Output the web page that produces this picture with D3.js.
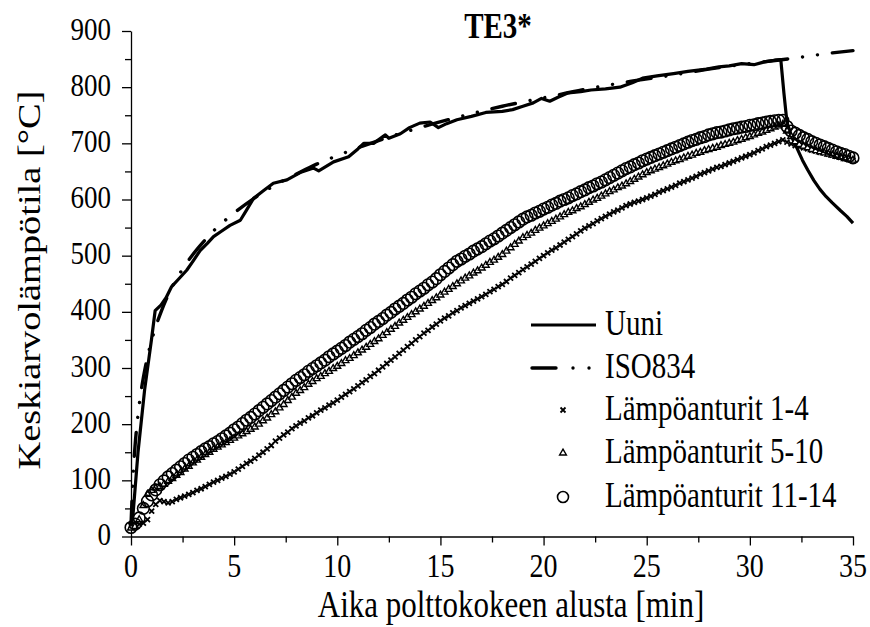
<!DOCTYPE html>
<html>
<head>
<meta charset="utf-8">
<script src="https://cdn.jsdelivr.net/npm/d3@7"></script>
<style>
  body { margin: 0; background: #fff; }
  text { font-family: "Liberation Serif", "Times New Roman", serif; fill: #000; }
</style>
</head>
<body>
<div id="chart"></div>
<script>
// Furnace (Uuni) measured curve
const uuniTime = [0, 0.1, 0.34, 0.66, 0.99, 1.17, 1.45, 1.7, 1.97, 2.3, 2.7, 3.0, 3.35, 3.7, 4.0, 4.4, 4.8, 5.3, 5.6, 5.94,
  6.4, 6.9, 7.56, 8.2, 8.85, 9.1, 9.82, 10.55, 11.0, 11.28, 11.76, 12.33, 12.5, 13.06, 13.5, 14.0, 14.5, 14.9, 15.3, 15.8,
  16.5, 17.2, 18.0, 18.5, 19.0, 19.5, 19.9, 20.3, 20.7, 21.2, 21.8, 22.3, 23.0, 23.7, 24.3, 24.8, 25.5, 26.3, 27.0, 27.9,
  28.5, 29.0, 29.6, 30.2, 30.7, 31.2, 31.5, 31.65, 31.8, 32.05, 32.3, 32.55, 32.8, 33.1, 33.4, 33.7, 34.0, 34.4, 34.7, 35.0];
const uuniTemp = [20, 40, 150, 261, 350, 402, 412, 425, 445, 458, 474, 490, 509, 522, 534, 544, 554, 563, 581, 602,
  615, 629, 635, 648, 656, 651, 667, 676, 690, 700, 700, 715, 709, 717, 728, 736, 738, 728, 735, 742,
  748, 755, 757, 760, 766, 772, 780, 775, 782, 790, 792, 795, 797, 800, 808, 816, 820, 824, 828, 832,
  836, 838, 842, 840, 845, 848, 849, 790, 737, 710, 690, 670, 653, 634, 618, 605, 594, 580, 570, 558];

// ISO834 standard curve
const isoTime = [0, 0.1, 0.2, 0.3, 0.4, 0.5, 0.6, 0.8, 1, 1.25, 1.5, 2, 2.5, 3, 3.5, 4, 5, 6, 7, 8, 9, 10,
  12, 14, 16, 18, 20, 22, 24, 26, 28, 30, 32, 34, 35];
const isoTemp = [20, 108, 163, 203, 235, 261, 283, 320, 349, 379, 404, 445, 476, 502, 524, 544, 576, 603, 626, 645, 663, 678,
  705, 728, 748, 766, 781, 796, 809, 820, 832, 842, 851, 861, 865];

// sensor averages, one reading every 0.2 min from 0 to 35 min
const sampleStep = 0.2;
const anturit1_4 = [20, 21, 22, 24, 30, 45, 57, 64, 62, 60, 62, 66, 69, 72, 75, 78, 82, 85, 89, 93,
  97, 100, 104, 107, 111, 115, 120, 125, 130, 134, 139, 145, 150, 156, 162, 170, 175, 181, 186, 192,
  197, 202, 206, 211, 215, 220, 225, 229, 234, 238, 243, 248, 253, 258, 263, 268, 274, 279, 285, 290,
  296, 302, 308, 314, 320, 326, 332, 338, 344, 350, 356, 362, 367, 373, 378, 384, 389, 393, 398, 402,
  407, 411, 415, 419, 423, 427, 431, 436, 440, 445, 449, 454, 460, 465, 470, 475, 480, 485, 490, 495,
  500, 505, 510, 514, 519, 524, 529, 534, 539, 544, 549, 553, 557, 562, 566, 570, 574, 578, 581, 585,
  589, 592, 595, 597, 600, 603, 606, 609, 613, 616, 619, 622, 625, 629, 632, 635, 638, 641, 645, 648,
  651, 654, 657, 659, 662, 665, 668, 671, 674, 677, 680, 683, 687, 690, 694, 697, 700, 703, 706, 702,
  699, 696, 694, 692, 690, 688, 686, 684, 683, 681, 679, 677, 675, 673, 672, 670];
const anturit5_10 = [15, 18, 30, 55, 75, 82, 86, 89, 93, 98, 103, 109, 114, 120, 125, 131, 136, 141, 146, 150,
  155, 159, 163, 167, 171, 175, 179, 183, 187, 191, 195, 200, 206, 211, 217, 222, 229, 235, 242, 248,
  255, 260, 265, 271, 276, 281, 285, 290, 294, 299, 303, 308, 313, 317, 322, 327, 332, 337, 342, 347,
  352, 358, 363, 369, 374, 380, 385, 390, 395, 400, 405, 410, 415, 420, 425, 430, 435, 440, 445, 450,
  455, 460, 464, 469, 473, 478, 483, 488, 492, 497, 502, 508, 514, 520, 526, 532, 536, 540, 545, 549,
  553, 557, 561, 565, 569, 573, 577, 580, 584, 587, 591, 595, 599, 602, 606, 610, 614, 617, 621, 624,
  628, 632, 636, 640, 644, 648, 651, 654, 657, 660, 663, 666, 669, 671, 674, 677, 679, 682, 684, 687,
  689, 691, 693, 696, 698, 700, 702, 705, 707, 710, 712, 715, 718, 720, 723, 726, 729, 731, 734, 722,
  712, 703, 698, 695, 692, 689, 687, 685, 683, 681, 679, 677, 675, 673, 672, 670];
const anturit11_14 = [16, 22, 33, 50, 63, 74, 83, 92, 99, 106, 112, 118, 124, 130, 136, 141, 146, 151, 156, 160,
  165, 169, 174, 179, 184, 190, 195, 201, 207, 212, 218, 224, 230, 236, 242, 248, 254, 260, 266, 272,
  278, 283, 288, 294, 299, 304, 309, 314, 320, 325, 330, 335, 340, 346, 351, 356, 361, 367, 372, 378,
  383, 388, 394, 399, 405, 410, 415, 421, 426, 432, 437, 442, 448, 453, 459, 466, 472, 478, 484, 490,
  494, 499, 503, 508, 512, 516, 521, 526, 530, 535, 540, 545, 550, 555, 560, 565, 569, 572, 576, 579,
  583, 586, 590, 593, 597, 600, 603, 607, 610, 614, 617, 621, 624, 628, 631, 635, 639, 643, 647, 651,
  655, 658, 662, 665, 669, 672, 675, 678, 681, 684, 687, 690, 693, 696, 699, 702, 705, 707, 710, 712,
  715, 717, 719, 720, 722, 724, 726, 727, 729, 730, 732, 733, 735, 736, 738, 739, 740, 741, 741, 730,
  722, 718, 714, 710, 707, 703, 700, 697, 694, 691, 688, 685, 682, 680, 677, 674];

const xTicks = [0, 5, 10, 15, 20, 25, 30, 35];
const yTicks = [0, 100, 200, 300, 400, 500, 600, 700, 800, 900];
const legendLabels = ["Uuni", "ISO834", "Lämpöanturit 1-4", "Lämpöanturit 5-10", "Lämpöanturit 11-14"];

const W = 870, H = 627;
const stretch = 1.2;   // the original picture is taller than it is wide, text looks stretched

const svg = d3.select("#chart").append("svg")
  .attr("width", W)
  .attr("height", H);

const x = d3.scaleLinear().domain([0, 35]).range([131, 853]);
const y = d3.scaleLinear().domain([0, 900]).range([536.5, 31]);

// helper for stretched text
function label(sel, tx, ty, txt, size, anchor) {
  return sel.append("text")
    .attr("transform", `translate(${tx},${ty}) scale(1,${stretch})`)
    .attr("text-anchor", anchor || "middle")
    .style("font-size", size + "px")
    .text(txt);
}

// axes, major + minor ticks
svg.append("g")
  .attr("transform", `translate(0,${y(0)})`)
  .call(d3.axisBottom(x).tickValues(xTicks).tickSize(9).tickSizeOuter(0).tickFormat(""));
svg.append("g")
  .attr("transform", `translate(0,${y(0)})`)
  .call(d3.axisBottom(x).tickValues(d3.range(2.5, 35, 5)).tickSize(6).tickSizeOuter(0).tickFormat(""))
  .select(".domain").remove();

svg.append("g")
  .attr("transform", `translate(${x(0)},0)`)
  .call(d3.axisLeft(y).tickValues(yTicks).tickSize(9).tickSizeOuter(0).tickFormat(""));
svg.append("g")
  .attr("transform", `translate(${x(0)},0)`)
  .call(d3.axisLeft(y).tickValues(d3.range(50, 900, 100)).tickSize(6).tickSizeOuter(0).tickFormat(""))
  .select(".domain").remove();

svg.selectAll(".domain, .tick line")
  .attr("stroke", "#000")
  .attr("stroke-width", 1.3);

// tick labels
const tickLabels = svg.append("g");
xTicks.forEach(v => label(tickLabels, x(v), 577, v, 28));
yTicks.forEach(v => label(tickLabels, 111, y(v) + 8.5, v, 27, "end"));

// titles
svg.append("text")
  .attr("transform", `translate(498,38) scale(1,${stretch})`)
  .attr("text-anchor", "middle")
  .style("font-size", "29px")
  .style("font-weight", "bold")
  .text("TE3*");

label(svg, 511, 617, "Aika polttokokeen alusta [min]", 31);

svg.append("text")
  .attr("transform", `translate(40,280) rotate(-90) scale(${stretch},1)`)
  .attr("text-anchor", "middle")
  .style("font-size", "32px")
  .text("Keskiarvolämpötila [°C]");

// lines
const uuniData = uuniTime.map((t, i) => [t, uuniTemp[i]]);
const isoData = isoTime.map((t, i) => [t, isoTemp[i]]);

svg.append("path")
  .datum(uuniData)
  .attr("fill", "none")
  .attr("stroke", "#000")
  .attr("stroke-width", 3.2)
  .attr("stroke-linejoin", "round")
  .attr("d", d3.line().x(d => x(d[0])).y(d => y(d[1])));

svg.append("path")
  .datum(isoData)
  .attr("fill", "none")
  .attr("stroke", "#000")
  .attr("stroke-width", 3.4)
  .attr("stroke-linecap", "round")
  .attr("stroke-dasharray", "24,15,0.01,15,0.01,15")
  .attr("d", d3.line().curve(d3.curveMonotoneX).x(d => x(d[0])).y(d => y(d[1])));

// marker series
const crossPath = s => `M${-s},${-s}L${s},${s}M${-s},${s}L${s},${-s}`;
const triPath = d3.symbol(d3.symbolTriangle).size(20)();

function points(arr) {
  return arr.map((v, i) => [i * sampleStep, v]);
}

svg.append("g").selectAll("path")
  .data(points(anturit1_4))
  .enter().append("path")
  .attr("transform", d => `translate(${x(d[0])},${y(d[1])})`)
  .attr("d", crossPath(2.5))
  .attr("stroke", "#000")
  .attr("stroke-width", 1.8)
  .attr("fill", "none");

svg.append("g").selectAll("path")
  .data(points(anturit5_10))
  .enter().append("path")
  .attr("transform", d => `translate(${x(d[0])},${y(d[1])})`)
  .attr("d", triPath)
  .attr("stroke", "#000")
  .attr("stroke-width", 1.4)
  .attr("fill", "#fff");

svg.append("g").selectAll("circle")
  .data(points(anturit11_14))
  .enter().append("circle")
  .attr("cx", d => x(d[0]))
  .attr("cy", d => y(d[1]))
  .attr("r", 5.8)
  .attr("stroke", "#000")
  .attr("stroke-width", 1.6)
  .attr("fill", "none");

// legend
const legendY = [325, 368, 410, 453, 497];
const legend = svg.append("g");

legend.append("line")
  .attr("x1", 531).attr("x2", 596).attr("y1", legendY[0]).attr("y2", legendY[0])
  .attr("stroke", "#000").attr("stroke-width", 3.2);
legend.append("line")
  .attr("x1", 532).attr("x2", 596).attr("y1", legendY[1]).attr("y2", legendY[1])
  .attr("stroke", "#000").attr("stroke-width", 3.4)
  .attr("stroke-linecap", "round")
  .attr("stroke-dasharray", "24,17,0.01,16,0.01,30");
legend.append("path")
  .attr("transform", `translate(563,${legendY[2]})`)
  .attr("d", crossPath(2.5))
  .attr("stroke", "#000").attr("stroke-width", 1.8);
legend.append("path")
  .attr("transform", `translate(563,${legendY[3]})`)
  .attr("d", triPath)
  .attr("stroke", "#000").attr("stroke-width", 1.4).attr("fill", "#fff");
legend.append("circle")
  .attr("cx", 563).attr("cy", legendY[4]).attr("r", 5.5)
  .attr("stroke", "#000").attr("stroke-width", 1.6).attr("fill", "none");

legendLabels.forEach((d, i) => label(legend, 605, legendY[i] + 10, d, 29, "start"));
</script>
</body>
</html>
